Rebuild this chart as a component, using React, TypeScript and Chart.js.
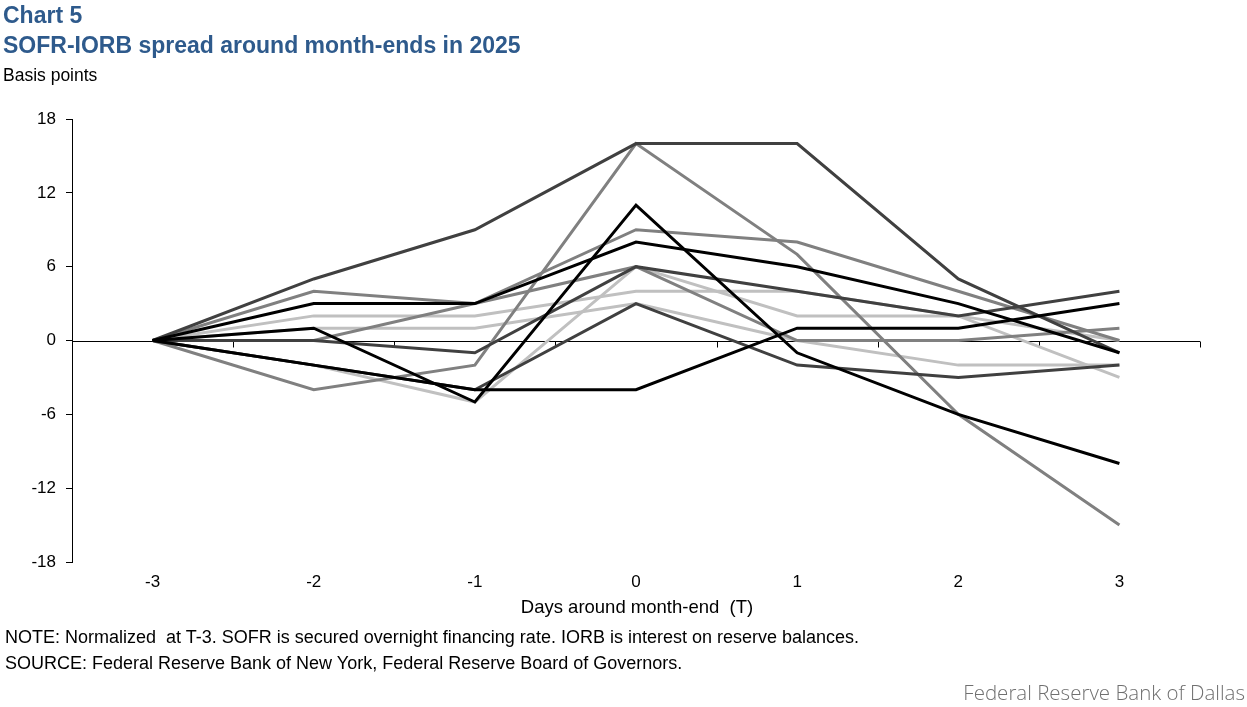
import React, { useEffect, useRef } from "react";
import { Chart, registerables } from "chart.js";

Chart.register(...registerables);

// Days around month-end (T)
const days = ["-3", "-2", "-1", "0", "1", "2", "3"];

// Month-end series (normalized at T-3), basis points
const blackA = [0, 1, -5, 11, -1, -6, -10];
const blackB = [0, 3, 3, 8, 6, 3, -1];
const blackC = [0, -2, -4, -4, 1, 1, 3];
const darkA = [0, 5, 9, 16, 16, 5, -1];
const darkB = [0, 0, -1, 6, 4, 2, 4];
const darkC = [0, -2, -4, 3, -2, -3, -2];
const grayA = [0, -4, -2, 16, 7, -6, -15];
const grayB = [0, 4, 3, 9, 8, 4, 0];
const grayC = [0, 0, 3, 6, 0, 0, 1];
const lightA = [0, 2, 2, 4, 4, 2, 0];
const lightB = [0, -2, -5, 6, 2, 2, -3];
const lightC = [0, 1, 1, 3, 0, -2, -2];

const yTicks = [-18, -12, -6, 0, 6, 12, 18];

const BLACK = "#000000";
const DARK = "#404040";
const GRAY = "#808080";
const LIGHT = "#c0c0c0";

const seriesList: { data: number[]; color: string }[] = [
  { data: blackA, color: BLACK },
  { data: blackB, color: BLACK },
  { data: blackC, color: BLACK },
  { data: darkA, color: DARK },
  { data: darkB, color: DARK },
  { data: darkC, color: DARK },
  { data: grayA, color: GRAY },
  { data: grayB, color: GRAY },
  { data: grayC, color: GRAY },
  { data: lightA, color: LIGHT },
  { data: lightB, color: LIGHT },
  { data: lightC, color: LIGHT },
];

const FONT = "'Liberation Sans', Arial, sans-serif";

const zeroAxisPlugin = {
  id: "zeroAxis",
  beforeDatasetsDraw(chart: any) {
    const { ctx, chartArea, scales } = chart;
    const x = scales.x;
    const y = scales.y;
    const y0 = Math.round(y.getPixelForValue(0)) + 0.5;
    ctx.save();
    ctx.strokeStyle = "#000";
    ctx.lineWidth = 1;
    ctx.beginPath();
    ctx.moveTo(chartArea.left, y0);
    ctx.lineTo(chartArea.right, y0);
    const ticks: number[] = [];
    for (let i = 1; i < days.length; i++) {
      ticks.push((x.getPixelForValue(i - 1) + x.getPixelForValue(i)) / 2);
    }
    ticks.push(chartArea.right);
    ticks.forEach((t) => {
      const tx = Math.round(t) + 0.5;
      ctx.moveTo(tx, y0);
      ctx.lineTo(tx, y0 + 6);
    });
    ctx.stroke();
    ctx.restore();
  },
};

export default function App() {
  const canvasRef = useRef<HTMLCanvasElement | null>(null);

  useEffect(() => {
    if (!canvasRef.current) return;
    const chart = new Chart(canvasRef.current, {
      type: "line",
      data: {
        labels: days,
        datasets: seriesList.map((s, i) => ({
          label: "Series " + (i + 1),
          data: s.data,
          borderColor: s.color,
          backgroundColor: s.color,
          borderWidth: 3,
          pointRadius: 0,
          tension: 0,
          fill: false,
        })),
      },
      options: {
        responsive: false,
        animation: false,
        devicePixelRatio: 1,
        layout: { padding: { left: 0, right: 47, top: 119, bottom: 0 } },
        plugins: {
          legend: { display: false },
          tooltip: { enabled: false },
          title: { display: false },
        },
        scales: {
          x: {
            type: "category",
            offset: true,
            grid: { display: false },
            border: { display: false },
            ticks: {
              color: "#000",
              font: { family: FONT, size: 17 },
              padding: 2,
              maxRotation: 0,
            },
            afterFit(scale: any) {
              scale.height = 145;
            },
          },
          y: {
            min: -18,
            max: 18,
            afterBuildTicks(scale: any) {
              scale.ticks = yTicks.map((v) => ({ value: v }));
            },
            grid: {
              display: true,
              drawOnChartArea: false,
              drawTicks: true,
              tickLength: 6,
              color: "#000",
            },
            border: { display: true, color: "#000", width: 1 },
            ticks: {
              color: "#000",
              font: { family: FONT, size: 17 },
              padding: 10,
            },
            afterFit(scale: any) {
              scale.width = 72;
            },
          },
        },
      },
      plugins: [zeroAxisPlugin],
    });
    return () => chart.destroy();
  }, []);

  const txt = (style: React.CSSProperties, content: string) => (
    <div
      style={{
        position: "absolute",
        whiteSpace: "pre",
        fontFamily: FONT,
        lineHeight: 1,
        ...style,
      }}
    >
      {content}
    </div>
  );

  return (
    <div
      style={{
        position: "fixed",
        left: 0,
        top: 0,
        width: 1247,
        height: 707,
        background: "#fff",
        overflow: "hidden",
      }}
    >
      <canvas
        ref={canvasRef}
        width={1247}
        height={707}
        style={{ position: "absolute", left: 0, top: 0, width: 1247, height: 707 }}
      />
      {txt({ left: 3, top: 4, fontSize: 23, fontWeight: "bold", color: "#2e5a8c" }, "Chart 5")}
      {txt(
        { left: 3, top: 34, fontSize: 23, fontWeight: "bold", color: "#2e5a8c" },
        "SOFR-IORB spread around month-ends in 2025"
      )}
      {txt({ left: 3, top: 67, fontSize: 17.5, color: "#000" }, "Basis points")}
      {txt(
        { left: 637, top: 598, fontSize: 18.5, color: "#000", transform: "translateX(-50%)" },
        "Days around month-end  (T)"
      )}
      {txt(
        { left: 5, top: 628, fontSize: 18, color: "#000" },
        "NOTE: Normalized  at T-3. SOFR is secured overnight financing rate. IORB is interest on reserve balances."
      )}
      {txt(
        { left: 5, top: 654, fontSize: 18, color: "#000" },
        "SOURCE: Federal Reserve Bank of New York, Federal Reserve Board of Governors."
      )}
      {txt(
        { right: 2, top: 682, fontSize: 20.5, color: "#707070", fontFamily: "'Open Sans', sans-serif", fontWeight: 300 },
        "Federal Reserve Bank of Dallas"
      )}
    </div>
  );
}
